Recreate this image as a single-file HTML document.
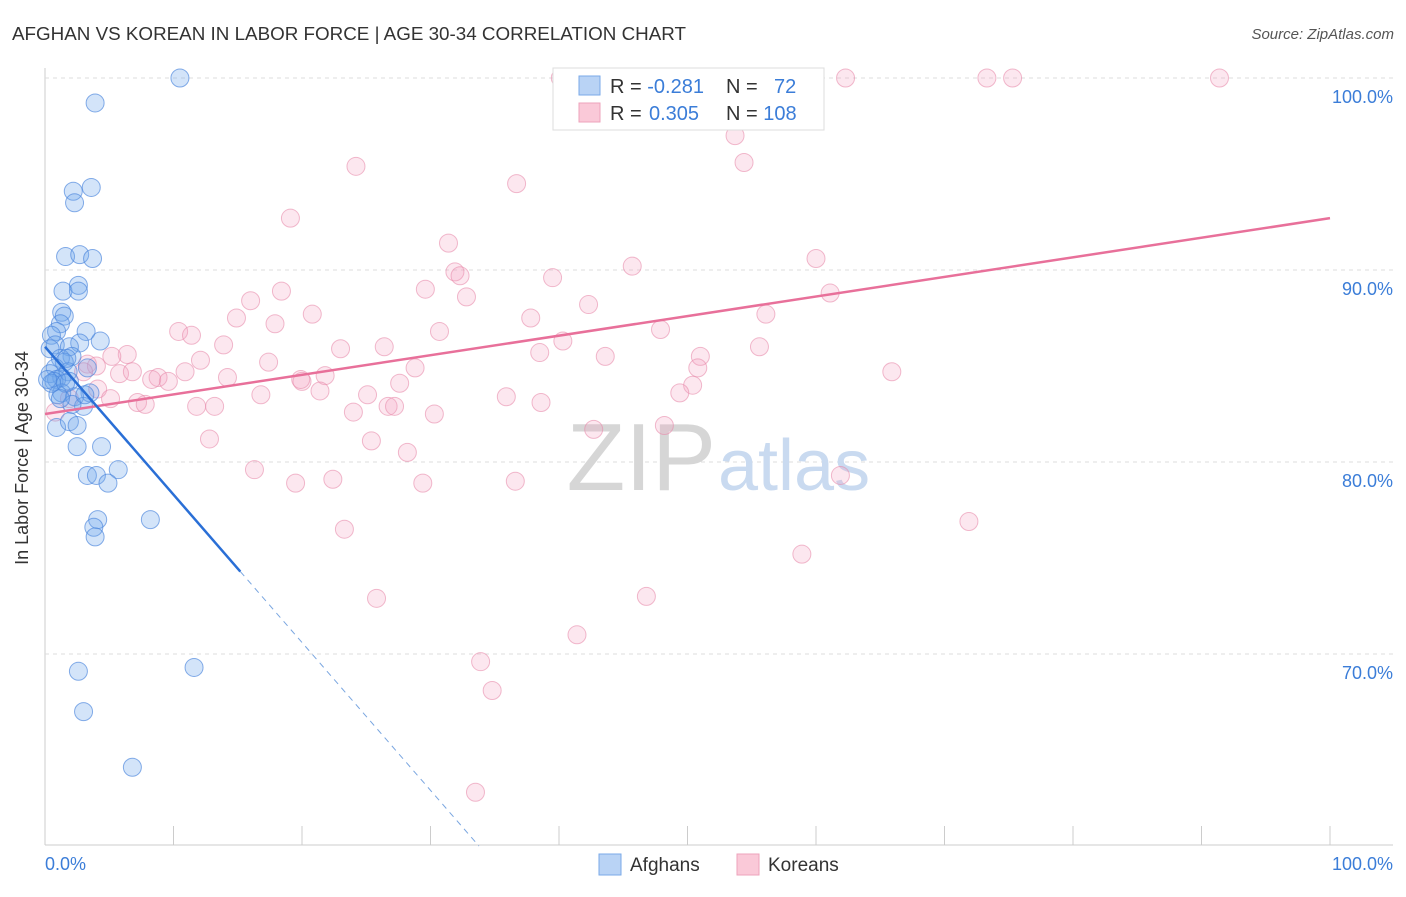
<!DOCTYPE html>
<html><head><meta charset="utf-8"><style>
body{margin:0;background:#fff;font-family:"Liberation Sans",sans-serif}
svg text{font-family:"Liberation Sans",sans-serif}
</style></head><body>
<svg width="1406" height="892" viewBox="0 0 1406 892">
<text x="12" y="40" font-size="18" fill="#333" textLength="674" lengthAdjust="spacingAndGlyphs">AFGHAN VS KOREAN IN LABOR FORCE | AGE 30-34 CORRELATION CHART</text>
<text x="1394" y="39" font-size="15" fill="#555" text-anchor="end" font-style="italic">Source: ZipAtlas.com</text>
<g id="grid"></g>
<text x="716" y="490" font-size="96" fill="#d6d6d6" text-anchor="end" font-family="Liberation Serif">ZIP</text>
<text x="718" y="490" font-size="72" fill="#c9daf0">atlas</text>
<g id="pts"></g>
<g id="lines"></g>
<text x="28" y="458" font-size="18" fill="#333" text-anchor="middle" transform="rotate(-90 28 458)">In Labor Force | Age 30-34</text>
<text x="45" y="870" font-size="18" fill="#3b7dd8">0.0%</text>
<text x="1393" y="870" font-size="18" fill="#3b7dd8" text-anchor="end">100.0%</text>
<g>
<rect x="553" y="68" width="271" height="62" fill="#fff" stroke="#ddd"/>
<rect x="579" y="76" width="21" height="19" fill="#b9d3f5" stroke="#7aaae8"/>
<rect x="579" y="103" width="21" height="19" fill="#fac9d8" stroke="#eea3bb"/>
<text x="610" y="93" font-size="20" fill="#333">R = <tspan fill="#3b7dd8">-0.281</tspan></text>
<text x="726" y="93" font-size="20" fill="#333">N = <tspan fill="#3b7dd8" x="774">72</tspan></text>
<text x="610" y="120" font-size="20" fill="#333">R = <tspan fill="#3b7dd8" x="649">0.305</tspan></text>
<text x="726" y="120" font-size="20" fill="#333">N = <tspan fill="#3b7dd8">108</tspan></text>
</g>
<g>
<rect x="599" y="854" width="22" height="21" fill="#b9d3f5" stroke="#7aaae8"/>
<text x="630" y="871" font-size="19" fill="#333">Afghans</text>
<rect x="737" y="854" width="22" height="21" fill="#fac9d8" stroke="#eea3bb"/>
<text x="768" y="871" font-size="19" fill="#333">Koreans</text>
</g>
</svg>
<script>
const afgX=[10.5,3.9,2.2,3.6,2.3,1.6,2.7,3.7,1.4,2.6,2.6,1.3,1.5,1.2,3.2,0.9,0.5,4.3,2.7,0.8,1.9,0.4,2.1,1.2,1.5,3.3,0.8,0.4,1.8,1.3,0.9,0.7,1.9,3.5,1.3,1.0,2.3,3.0,2.1,0.9,1.9,2.5,2.5,4.4,3.3,4.0,5.7,4.9,4.1,3.8,3.9,8.2,2.6,11.6,3.0,6.8,0.5,1.6,0.2,3.1,1.2,1.7];
const afgY=[100,98.7,94.1,94.3,93.5,90.7,90.8,90.6,88.9,89.2,88.9,87.8,87.6,87.2,86.8,86.8,86.6,86.3,86.2,86.1,86.0,85.9,85.5,85.4,85.2,84.9,84.9,84.6,84.7,84.4,84.3,84.2,84.2,83.6,83.6,83.5,83.4,82.9,83.0,81.8,82.1,81.9,80.8,80.8,79.3,79.3,79.6,78.9,77.0,76.6,76.1,77.0,69.1,69.3,67.0,64.1,84.1,84.1,84.3,83.5,83.3,85.4];
const korX=[40.1,62.3,73.3,75.3,91.4,52.1,53.7,54.4,24.2,36.7,19.1,31.4,31.9,32.3,39.5,45.7,60.0,29.6,32.8,18.4,16.0,42.3,37.8,20.8,14.9,17.9,56.1,61.1,10.4,11.4,13.9,30.7,47.9,40.3,23.0,26.4,55.6,6.4,5.2,3.3,12.1,17.4,38.5,43.6,51.0,5.8,6.8,4.0,10.9,28.8,50.8,65.9,8.8,9.6,8.3,14.2,20.0,21.8,19.9,27.6,4.1,21.4,16.8,25.1,35.9,50.4,49.4,7.2,7.8,11.8,13.2,24.0,26.7,27.2,30.3,38.6,48.2,42.7,12.8,25.4,28.2,16.3,19.5,22.4,29.4,36.6,61.9,23.3,71.9,58.9,25.8,46.8,41.4,33.9,34.8,33.5,0.8,1.9,5.1,3.0];
const korY=[100,100,100,100,100,98.1,97.0,95.6,95.4,94.5,92.7,91.4,89.9,89.7,89.6,90.2,90.6,89.0,88.6,88.9,88.4,88.2,87.5,87.7,87.5,87.2,87.7,88.8,86.8,86.6,86.1,86.8,86.9,86.3,85.9,86.0,86.0,85.6,85.5,85.1,85.3,85.2,85.7,85.5,85.5,84.6,84.7,85.0,84.7,84.9,84.9,84.7,84.4,84.2,84.3,84.4,84.2,84.5,84.3,84.1,83.8,83.7,83.5,83.5,83.4,84.0,83.6,83.1,83.0,82.9,82.9,82.6,82.9,82.9,82.5,83.1,81.9,81.7,81.2,81.1,80.5,79.6,78.9,79.1,78.9,79.0,79.3,76.5,76.9,75.2,72.9,73.0,71.0,69.6,68.1,62.8,82.6,83.3,83.3,84.7];
const yTicks=[100,90,80,70];
const yTickLabels=["100.0%","90.0%","80.0%","70.0%"];
const xTicks=[0,10,20,30,40,50,60,70,80,90,100];
const afgTrend=[86.0,-0.77,15.2];
const korTrend=[82.5,92.7];

const NS="http://www.w3.org/2000/svg";
const sx=v=>45+v*12.85, sy=v=>78+(100-v)*19.2;
function mk(tag,attrs,parent){const e=document.createElementNS(NS,tag);for(const k in attrs)e.setAttribute(k,attrs[k]);parent.appendChild(e);return e;}
const grid=document.getElementById('grid');
const yl=mk('line',{x1:45,y1:68,x2:45,y2:845,stroke:'#ccc'},grid);


const xl=mk('line',{x1:45,y1:845,x2:1393,y2:845,stroke:'#ccc'},grid);


yTicks.forEach((t,i)=>{
  const l=mk('line',{x1:45,x2:1393,y1:sy(t),y2:sy(t),stroke:'#ddd','stroke-dasharray':'4,4'},grid);
  
  
  const tx=mk('text',{x:1393,y:sy(t)+25,'font-size':18,fill:'#3b7dd8','text-anchor':'end'},grid);
  tx.textContent=yTickLabels[i];
  
  
});
xTicks.forEach(t=>{
  const l=mk('line',{x1:sx(t),x2:sx(t),y1:826,y2:845,stroke:'#ccc'},grid);
  
  
});
const pts=document.getElementById('pts');
korX.forEach((x,i)=>{
  const c=mk('circle',{cx:sx(x),cy:sy(korY[i]),r:9,fill:'rgba(244,160,190,0.25)',stroke:'rgba(232,140,172,0.6)','stroke-width':1},pts);
  
  
});
afgX.forEach((x,i)=>{
  const c=mk('circle',{cx:sx(x),cy:sy(afgY[i]),r:9,fill:'rgba(110,165,235,0.3)',stroke:'rgba(70,130,220,0.65)','stroke-width':1},pts);
  
  
});
const lines=document.getElementById('lines');
const k=mk('line',{x1:sx(0),y1:sy(korTrend[0]),x2:sx(100),y2:sy(korTrend[1]),stroke:'#e8709a','stroke-width':2.5},lines);


const ay=x=>afgTrend[0]+afgTrend[1]*x;
const a=mk('line',{x1:sx(0),y1:sy(ay(0)),x2:sx(afgTrend[2]),y2:sy(ay(afgTrend[2])),stroke:'#2a6fd6','stroke-width':2.5},lines);


const xEnd=(afgTrend[0]-60)/-afgTrend[1];
const ad=mk('line',{x1:sx(afgTrend[2]),y1:sy(ay(afgTrend[2])),x2:sx(xEnd),y2:sy(60),stroke:'#7aa6e0','stroke-width':1,'stroke-dasharray':'6,5'},lines);


</script>
</body></html>
